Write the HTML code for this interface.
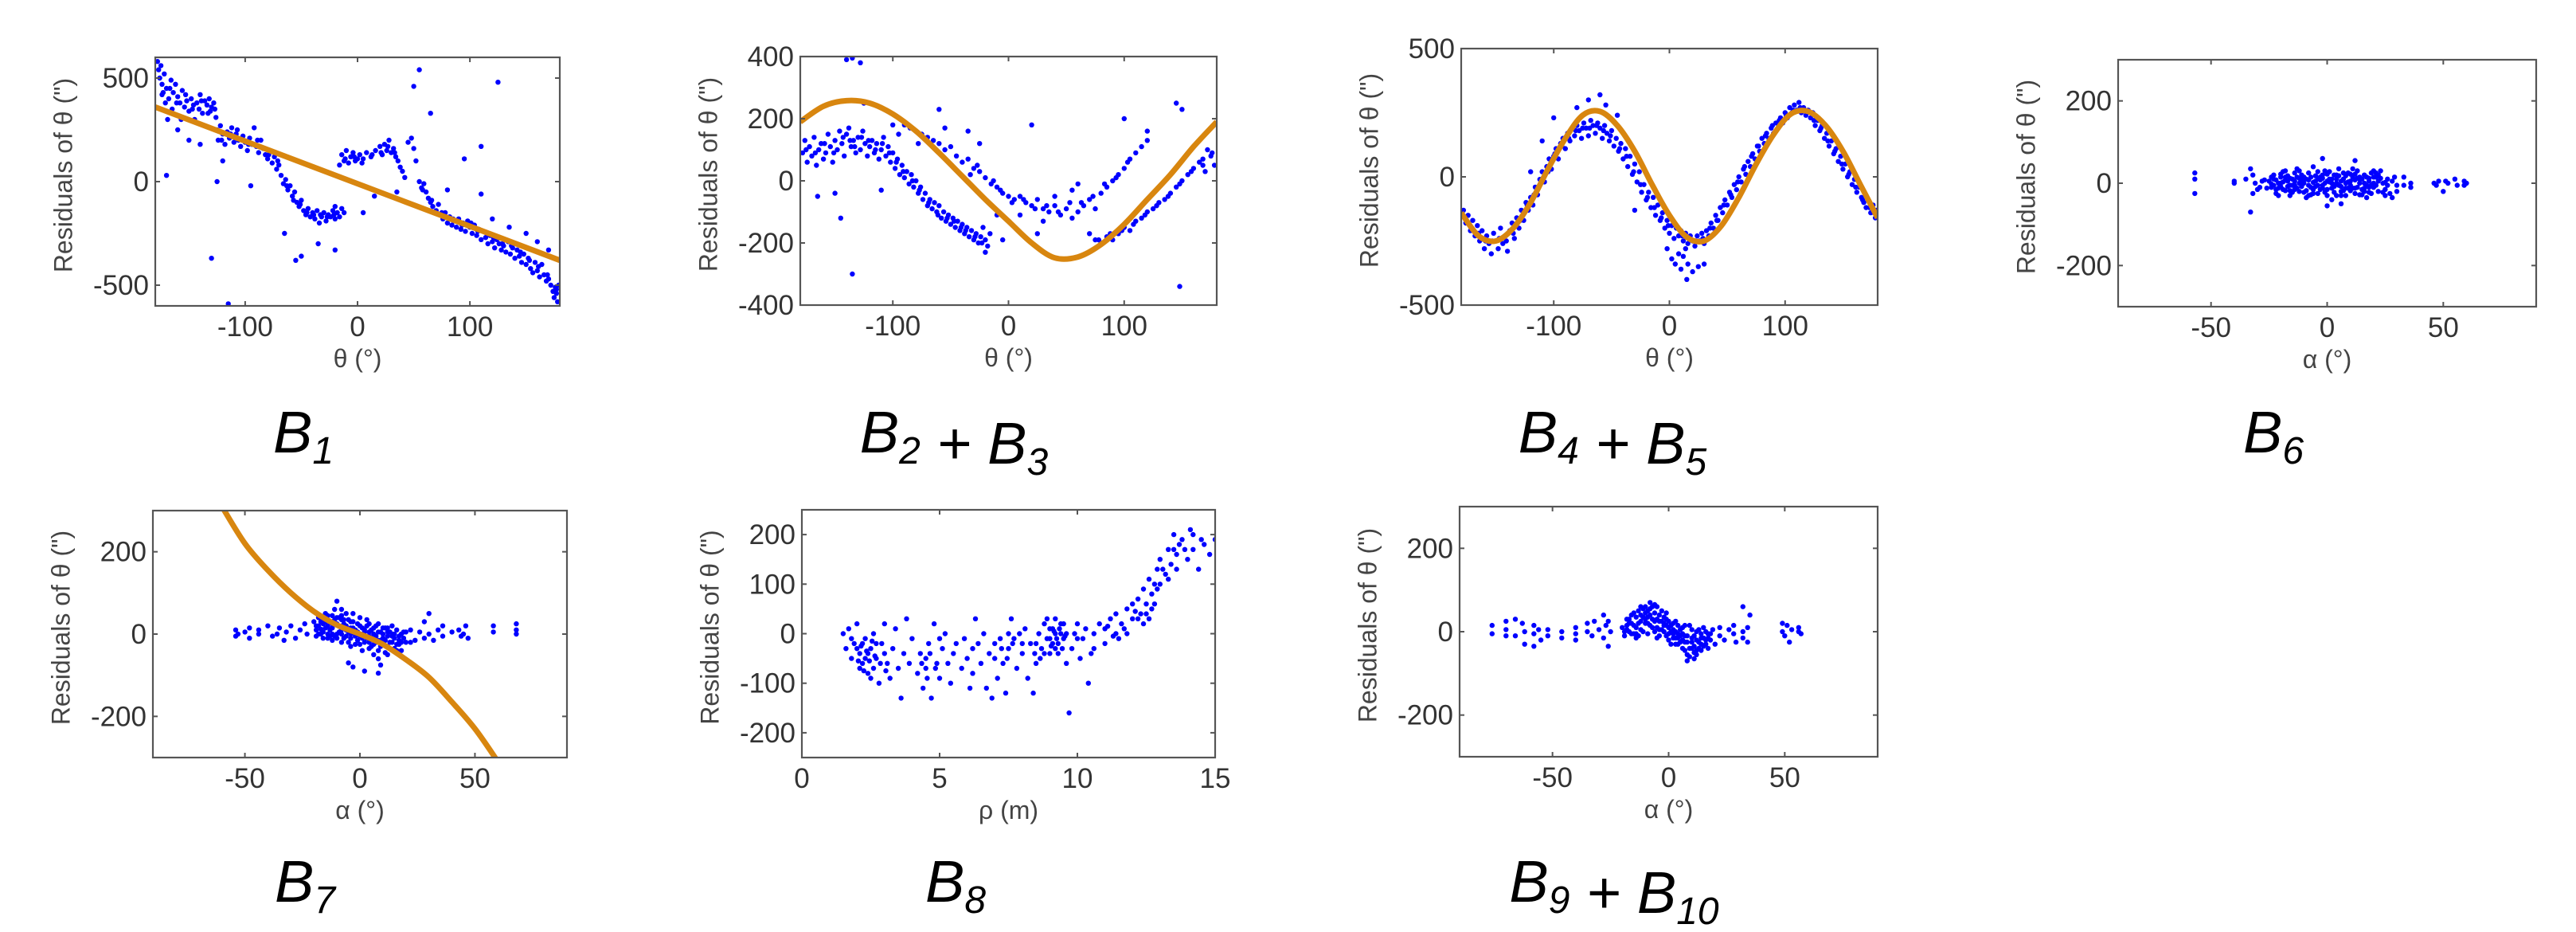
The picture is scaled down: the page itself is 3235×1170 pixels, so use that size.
<!DOCTYPE html>
<html><head><meta charset="utf-8">
<style>
html,body{margin:0;padding:0;background:#fff;}
svg{display:block;}
text{font-family:"Liberation Sans",sans-serif;}
</style></head>
<body>
<svg id="fig" width="3235" height="1170" viewBox="0 0 3235 1170" xmlns="http://www.w3.org/2000/svg">
<rect width="3235" height="1170" fill="#fff"/>
</svg>
<script>
// ---- data ----
const b1Points=[-178,580,-177,540,-176,500,-175,560,-174,470,-173,430,-172,520,-171,380,-170,450,-169,300,-168,400,-166,490,-165,350,-164,430,-162,470,-160,410,-158,380,-157,300,-156,440,-154,360,-152,390,-150,340,-148,400,-146,370,-145,300,-143,380,-141,350,-140,420,-138,330,-136,390,-134,370,-132,400,-131,340,-130,360,-128,380,-126,310,-125,250,-124,200,-122,270,-120,230,-118,180,-116,240,-114,210,-112,260,-110,190,-108,230,-106,200,-104,170,-102,220,-100,190,-98,150,-96,210,-94,180,-92,260,-90,170,-88,140,-86,200,-84,160,-82,130,-80,110,-78,150,-76,90,-74,120,-72,60,-70,80,-68,30,-66,-10,-64,10,-62,-40,-60,-20,-58,-70,-56,-50,-54,-100,-52,-120,-50,-90,-48,-140,-46,-160,-44,-130,-42,-170,-40,-150,-38,-180,-36,-140,-34,-200,-32,-170,-30,-150,-28,-190,-26,-160,-24,-170,-22,-140,-20,-180,-18,-150,-16,-170,-14,-130,-12,-150,-16,80,-14,130,-12,100,-10,150,-8,90,-6,120,-4,140,-2,100,0,110,2,130,4,90,8,140,12,120,16,150,20,170,22,130,24,180,26,150,28,200,30,140,32,160,34,120,36,100,38,70,40,50,42,20,45,190,48,210,50,160,52,100,55,0,57,-30,59,-10,61,-50,63,-80,65,-100,67,-120,70,-140,72,-110,74,-160,76,-180,78,-150,80,-200,82,-170,84,-210,86,-190,88,-220,90,-180,92,-230,94,-200,96,-240,98,-190,100,-220,102,-250,104,-210,106,-260,108,-230,110,-280,112,-240,114,-270,116,-300,118,-260,120,-290,122,-320,124,-280,126,-300,128,-330,130,-310,132,-340,134,-290,136,-350,138,-320,140,-370,142,-330,144,-360,146,-390,148,-350,150,-400,152,-370,154,-420,156,-440,158,-390,160,-430,162,-460,164,-400,166,-450,168,-480,170,-470,172,-500,174,-530,175,-560,176,-510,177,-540,178,-580,179,-500,-170,30,-130,-370,-115,-590,-125,0,-95,-20,55,540,50,460,65,330,125,480,95,110,110,170,110,-60,80,-40,-20,-330,-35,-300,-50,-360,-55,-380,-65,-250,-20,-120,15,-70,5,-150,35,-50,-160,250,-150,200,-140,180,-120,100,120,-180,135,-220,150,-250,160,-290,170,-330,-174,420,-167,450,-161,380,-153,420,-147,350,-139,390,-133,330,-127,350,-121,200,-113,230,-107,250,-97,180,-89,200,-79,130,-71,100,-63,-20,-57,-90,-51,-110,-45,-150,-39,-160,-33,-160,-27,-170,-21,-160,-11,110,-3,120,5,110,13,130,21,140,27,170,33,140,58,-40,66,-90,75,-150,85,-180,93,-210,101,-200,107,-240,115,-250,121,-270,129,-300,137,-310,145,-340,153,-380,161,-410,169,-450,177,-520];
const b1FitX=[-180,180];
const b1FitY=[360,-380];

const b23Points=[-178,90,-176,130,-174,60,-172,110,-170,80,-168,140,-166,50,-164,100,-162,120,-160,70,-158,90,-156,150,-154,110,-152,60,-150,130,-148,100,-146,160,-144,120,-142,80,-140,150,-138,170,-136,110,-134,130,-132,90,-130,140,-128,100,-126,160,-124,120,-122,80,-120,110,-118,130,-116,90,-114,120,-112,70,-110,100,-108,140,-106,80,-104,110,-102,60,-100,90,-98,40,-96,70,-94,20,-92,50,-90,10,-88,30,-86,-10,-84,20,-82,-20,-80,0,-78,-40,-76,-20,-74,-60,-72,-40,-70,-80,-68,-60,-66,-90,-64,-70,-62,-100,-60,-80,-58,-120,-56,-100,-54,-130,-52,-110,-50,-140,-48,-120,-46,-150,-44,-130,-42,-160,-40,-140,-38,-170,-36,-150,-34,-180,-32,-160,-30,-190,-28,-170,-26,-200,-24,-180,-22,-150,-20,-190,-18,-210,-16,-170,-90,180,-85,170,-80,160,-75,150,-70,140,-65,130,-60,120,-55,100,-50,110,-45,80,-40,60,-35,70,-30,40,-25,30,-20,10,-15,-10,-10,-20,-5,-40,0,-50,5,-60,10,-50,15,-70,20,-80,25,-60,30,-90,35,-100,40,-80,45,-110,50,-90,55,-120,60,-100,65,-80,70,-60,75,-90,80,-40,85,-20,90,0,95,20,100,40,105,70,110,90,115,110,120,130,-78,120,70,-170,75,-190,80,-200,85,-180,90,-190,95,-170,100,-150,105,-160,110,-130,115,-120,120,-100,125,-90,130,-70,135,-60,140,-40,145,-20,150,0,155,20,160,40,165,60,170,30,175,80,178,50,172,100,168,70,-140,390,-135,395,-128,380,-125,250,-135,-300,-145,-120,-165,-50,-150,-40,-110,-30,-60,230,-55,170,-35,160,-25,120,20,180,40,-50,55,-30,60,-10,100,200,120,160,145,250,150,230,148,-340,-10,-110,10,-110,30,-130,-100,180,-95,150,25,-170,-20,-230,-5,-190,-175,100,-167,90,-159,120,-151,90,-143,140,-137,130,-133,110,-127,140,-121,130,-115,100,-109,120,-103,90,-97,60,-91,30,-83,0,-77,-30,-69,-70,-61,-110,-53,-120,-47,-130,-41,-150,-37,-160,-29,-180,-23,-200,-33,20,-27,50,-13,0,-7,-30,3,-70,13,-60,23,-90,33,-80,43,-100,53,-70,63,-70,73,-50,83,-10,93,10,103,60,78,-190,88,-170,98,-160,108,-140,118,-110,128,-80,138,-50,148,-10,158,30,168,50,176,90];
const b23FitX=[-180,-160,-140,-120,-100,-80,-60,-40,-20,0,20,40,60,80,100,120,140,160,180];
const b23FitY=[190,240,258,250,215,160,90,15,-60,-130,-200,-248,-245,-205,-140,-60,20,110,190];

const b45Points=[-178,-130,-176,-180,-174,-150,-172,-210,-170,-170,-168,-230,-166,-190,-164,-250,-162,-210,-160,-280,-158,-230,-156,-260,-154,-300,-152,-220,-150,-250,-148,-280,-146,-200,-144,-260,-142,-230,-140,-290,-138,-210,-136,-180,-134,-240,-132,-160,-130,-200,-128,-130,-126,-170,-124,-100,-122,-130,-120,-80,-118,-110,-116,-40,-114,-70,-112,-10,-110,20,-108,-20,-106,40,-104,70,-102,30,-100,80,-98,110,-96,70,-94,130,-92,150,-90,110,-88,170,-86,140,-84,190,-82,160,-80,200,-78,180,-76,150,-74,210,-72,190,-70,160,-68,220,-66,200,-64,170,-62,210,-60,190,-58,150,-56,200,-54,170,-52,140,-50,180,-48,120,-46,150,-44,100,-42,130,-40,70,-38,110,-36,40,-34,80,-32,10,-30,50,-28,-20,-26,20,-24,-60,-22,-30,-20,-90,-18,-60,-16,-120,-14,-80,-12,-150,-10,-110,-8,-170,-6,-140,-4,-200,-2,-170,0,-220,2,-190,4,-240,-2,-280,2,-320,5,-340,8,-300,10,-360,12,-310,14,-280,16,-340,6,-200,8,-230,10,-210,12,-250,14,-220,16,-260,18,-230,20,-250,22,-270,24,-230,26,-250,28,-220,30,-260,32,-210,34,-230,36,-180,38,-200,40,-150,42,-170,44,-120,46,-140,48,-90,50,-110,52,-60,54,-80,56,-30,58,-50,60,0,62,-20,64,30,66,10,68,60,70,40,72,90,74,70,76,120,78,100,80,150,82,130,84,170,86,150,88,190,90,170,92,210,94,190,96,230,98,210,100,250,102,230,104,270,106,250,108,280,110,260,112,290,114,250,116,270,118,240,120,260,122,230,124,250,126,200,128,220,130,180,132,200,134,150,136,170,138,120,140,140,142,90,144,110,146,60,148,80,150,30,152,50,154,0,156,20,158,-30,160,-10,162,-60,164,-40,166,-80,168,-100,170,-120,172,-90,174,-140,176,-110,178,-160,179,-130,-70,300,-60,320,-55,280,-45,240,-80,270,-100,230,-110,140,-120,20,15,-400,20,-370,25,-350,-30,-130,30,-340,-177,-160,-171,-200,-165,-220,-159,-250,-153,-250,-147,-240,-141,-250,-135,-220,-129,-170,-123,-110,-117,-70,-111,-20,-105,20,-99,90,-93,120,-87,150,-81,180,-75,190,-69,190,-63,200,-57,180,-51,160,-43,110,-37,80,-31,20,-25,-30,-19,-80,-13,-120,-7,-160,-1,-190,11,-230,17,-240,23,-250,29,-240,35,-200,41,-170,47,-110,53,-70,59,-20,65,40,71,80,77,120,83,160,89,200,95,220,101,240,107,260,113,270,119,250,125,220,131,190,137,140,143,100,149,50,155,10,161,-40,167,-90,173,-120,177,-140];
const b45FitX=[-180,-165,-150,-135,-120,-105,-90,-75,-60,-45,-30,-15,0,15,30,45,60,75,90,105,120,135,150,165,180];
const b45FitY=[-140,-230,-250,-200,-100,30,150,240,255,200,100,-30,-150,-235,-250,-190,-80,50,165,245,255,200,100,-30,-160];

const b6Points=[-57,25,-57,10,-57,-25,-40,0,-40,5,-33,-70,-33,35,-32,20,-31,0,-30,-15,-32,-25,-35,10,-28,5,-29,-10,33,15,33,-5,36,0,36,-10,46,0,47,-5,48,5,50,-20,51,5,52,0,55,10,56,-5,59,5,59,-5,60,0,30,-20,28,-35,25,-30,12,55,-2,60,6,-50,0,-55,-25,5,-24,-10,-23,20,-22,-25,-21,0,-20,15,-19,-15,-18,30,-17,5,-16,-30,-15,10,-14,-5,-13,35,-12,-20,-11,20,-10,0,-9,-35,-8,25,-7,-10,-6,40,-5,5,-4,-25,-3,15,-2,-5,-1,30,0,-15,1,10,2,-40,3,20,4,0,5,35,6,-20,7,10,8,-30,9,25,10,-5,11,15,12,-25,13,30,14,0,15,-15,16,20,17,-35,18,5,19,25,20,-10,21,15,22,-20,23,30,24,0,25,-15,26,10,27,-25,28,5,29,15,30,-5,-24,15,-22,8,-20,-8,-18,-18,-16,12,-14,25,-12,0,-10,-22,-8,8,-6,-15,-4,28,-2,12,0,22,2,-12,4,-30,6,5,8,18,10,-18,12,8,14,-28,16,0,18,-22,20,30,22,5,-21,-30,-19,28,-17,-8,-15,-22,-13,15,-11,-8,-9,10,-7,-28,-5,18,-3,-15,-1,0,1,28,3,-22,5,-5,7,25,9,-12,11,35,13,-10,15,10,17,-5,19,-25,21,25,-23,-5,-26,-12,-27,8,-20,0,-18,8,-16,-5,-14,5,-12,12,-10,10,-8,-5,-6,2,-4,-5,-2,20,0,5,2,0,4,10,6,-8,8,0,10,5,12,-12,14,15,16,-12,18,12,20,0,-23,10,-21,-12,-19,3,-17,18,-15,-5,-13,-12,-11,5,-9,-18,-7,15,-5,-8,-3,8,-1,-22,1,3,3,-8,5,18,7,-18,9,3,11,-12,13,12,15,-28,17,15,19,-5,21,-5,23,12,25,2,-24,-2,-20,22,-16,-18,-12,30,-8,-30,-4,12,0,-30,4,20,8,-12,12,22,16,-20,20,15,24,-22,-22,-15,-18,15,-14,-15,-10,15,-6,-25,-2,-12,2,10,6,-30,10,22,14,10,18,-10,22,20,26,-5];

const b7Points=[-54,10,-54,-5,-53,0,-50,5,-48,15,-48,-10,-44,0,-44,10,-40,20,-38,-5,-36,0,-35,15,-33,-15,-32,5,-30,20,-28,-10,-26,10,-24,25,-23,0,26,5,28,-10,28,30,30,50,30,0,32,-15,34,10,36,-5,36,20,40,5,43,10,44,-5,45,0,46,20,47,-10,58,5,58,20,68,0,68,10,68,25,-10,80,-8,60,-5,-70,-3,-80,2,-90,8,-95,9,-75,-20,30,-19,10,-18,40,-17,0,-16,25,-15,50,-14,-10,-13,30,-12,15,-11,60,-10,0,-9,40,-8,-20,-7,25,-6,50,-5,5,-4,-30,-3,30,-2,10,-1,-15,0,20,1,-40,2,5,3,35,4,-20,5,10,6,-50,7,-5,8,25,9,-30,10,0,11,-45,12,15,13,-20,14,-5,15,-35,16,10,17,-15,18,-40,19,5,20,-20,-19,-5,-17,30,-15,15,-13,-5,-11,35,-9,20,-7,-10,-5,35,-3,50,-1,25,1,15,3,-10,5,-30,7,20,9,-15,11,15,13,-35,15,-10,17,-5,-14,45,-12,-15,-10,25,-8,10,-6,-5,-4,15,-2,-25,0,-5,2,-20,4,25,6,0,8,-60,10,-25,12,-5,14,20,16,-25,18,0,-16,5,-12,45,-8,35,-4,-10,0,40,4,-35,8,5,12,-50,22,10,24,-15,22,-20,-18,20,-14,20,-10,40,-6,20,-2,-5,2,-5,6,-25,10,-10,14,0,-16,-10,-12,0,-8,0,-4,0,0,0,4,5,8,-15,12,-30,-19,20,-17,12,-15,30,-13,10,-11,-5,-9,5,-7,35,-5,-20,-3,15,-1,5,1,-10,3,20,5,-10,7,-20,9,5,11,-15,13,5,15,0,17,-25,19,-10,-18,0,-16,35,-14,0,-12,25,-10,-10,-8,45,-6,10,-4,30,-2,0,0,-25,2,10,4,-5,6,15,8,-40,10,15,12,5,14,-20,16,-40,18,-20,20,5];
const b7FitX=[-60,-50,-40,-30,-20,-10,0,10,20,30,40,50,60];
const b7FitY=[310,220,155,100,55,22,0,-25,-62,-105,-165,-230,-310];

const b8Points=[1.5,0,1.6,-30,1.7,10,1.8,-50,1.9,-20,2.0,20,2.1,-40,2.2,-60,2.3,-10,2.4,-80,2.5,-30,2.6,-70,2.7,-50,2.8,-100,2.9,-20,3.0,20,3.1,-60,3.2,-90,3.3,-30,3.4,10,3.5,-70,3.6,-130,3.7,-40,3.8,30,3.9,-60,4.0,-10,4.2,-80,4.3,-40,4.4,-110,4.5,-70,4.6,-20,4.7,-130,4.8,20,4.9,-60,5.0,-90,5.1,-30,5.2,0,5.3,-60,5.4,-100,5.5,-40,5.6,-20,5.8,-70,5.9,-10,6.0,-50,6.1,-110,6.2,-80,6.3,30,6.4,-20,6.5,-60,6.6,0,6.7,-110,6.8,-40,6.9,-130,7.0,-20,7.1,-90,7.2,-10,7.3,-60,7.4,-120,7.5,-30,7.6,30,7.7,-10,7.8,-70,7.9,0,8.0,-40,8.1,10,8.2,-90,8.3,-20,8.4,-120,8.5,-60,8.6,0,8.7,-30,8.8,20,8.9,-10,9.0,-40,9.1,10,9.2,0,9.3,-20,9.4,20,9.5,-10,9.6,-60,9.7,-160,9.8,-30,9.9,0,10.0,20,10.1,-50,10.2,-10,10.3,10,10.4,-100,10.5,-40,10.6,0,10.8,20,11.0,10,11.2,30,11.4,0,11.6,20,11.8,50,12.0,30,12.2,70,12.3,40,12.4,90,12.5,60,12.6,110,12.7,80,12.8,60,12.9,130,13.0,150,13.2,120,13.3,170,13.4,140,13.5,200,13.6,160,13.8,190,14.0,150,14.1,210,14.2,170,14.4,130,14.6,180,14.8,160,15.0,190,2.0,-30,2.2,-20,2.4,-40,2.6,0,9.0,10,9.1,-20,9.2,30,9.3,-40,9.4,0,9.5,20,8.8,-40,8.9,30,11.8,0,12.0,60,12.4,20,13.0,100,14.5,190,11.5,-10,12.6,30,1.8,-10,2.1,-70,2.3,-50,2.5,-90,2.7,-20,3.0,-40,4.5,-50,5.0,-10,6.2,-30,7.0,-50,7.5,0,8.0,-20,8.5,-20,9.0,-10,9.2,-30,9.6,0,10.0,-10,10.6,-30,11.0,-20,11.4,40,12.2,30,12.8,100,13.6,130,14.2,200,2.05,-55,2.15,-25,2.25,-75,2.35,-35,2.45,-55,2.55,-15,2.65,-45,2.85,-60,3.05,-75,4.35,-60,4.55,-90,4.65,-40,4.85,-70,7.25,-30,7.45,-50,7.65,-20,8.45,-40,8.65,-50,9.05,-25,9.15,5,9.25,-10,9.35,10,9.45,-30,9.55,-5,11.1,15,11.3,-5,11.7,10,12.1,45,12.5,40,12.7,50,12.9,90,13.1,130,13.3,110,13.5,170,13.7,180,13.9,170];

const b910Points=[-76,15,-76,-5,-70,25,-70,5,-70,-10,-66,30,-66,-10,-63,20,-62,0,-62,-30,-58,15,-58,-5,-58,-35,-56,5,-55,-20,-52,5,-52,-10,-46,0,-46,-15,-40,10,-40,-5,-40,-20,-35,20,-35,0,-33,-10,-32,25,-30,5,-28,40,-28,-15,-27,15,-26,-35,-26,25,-25,0,20,-30,22,10,22,-10,24,-20,26,5,28,-5,28,15,29,-25,32,0,32,-15,32,60,34,10,35,40,34,-25,49,0,49,20,50,-10,51,15,52,-25,53,5,56,10,57,-5,56,0,-20,10,-19,-10,-18,30,-17,0,-16,40,-15,15,-14,-15,-13,50,-12,25,-11,0,-10,60,-9,35,-8,70,-7,10,-6,45,-5,-15,-4,25,-3,50,-2,0,-1,30,0,-20,1,15,2,-5,3,25,4,-30,5,5,6,-40,7,-10,8,-55,9,15,10,-25,11,-65,12,0,13,-40,14,-15,15,10,16,-30,17,-5,18,-20,19,5,-18,5,-16,-5,-14,35,-12,5,-10,20,-8,40,-6,0,-4,-10,-2,35,0,10,2,20,4,-5,6,10,8,-25,10,5,12,-20,14,-45,16,0,-15,45,-11,55,-9,-5,-7,60,-5,30,-3,5,-1,-10,1,-30,3,-15,5,-25,7,-45,9,-60,11,-35,13,5,15,-15,17,-40,-17,20,-13,-10,-9,20,-5,60,-1,45,3,0,7,15,11,-10,-16,20,-12,40,-8,15,-4,5,0,-5,4,15,8,-10,12,-45,-14,10,-10,30,-6,25,-2,15,2,-15,6,-20,10,-40,14,-5,-19,0,-17,30,-15,-5,-13,20,-11,35,-9,50,-7,30,-5,10,-3,25,-1,15,1,0,3,-30,5,-10,7,-25,9,-40,11,-50,13,-25,15,-35,17,-15,-18,15,-14,-5,-10,45,-6,65,-2,20,2,5,6,-5,10,-15,14,-30,18,-5,-12,60,-8,55,-4,40,0,25,4,-15,8,-70,12,-55,16,-20];

// ---- axis / panel configuration ----
const panels=[
 {id:'b1',pts:b1Points,fx:b1FitX,fy:b1FitY,L:195,R:703,T:72,B:384,x0:-180,x1:180,y0:-600,y1:600,xt:[-100,0,100],yt:[-500,0,500],xl:'θ (°)',lab:['1'],cx:381,by:568},
 {id:'b2-b3',pts:b23Points,fx:b23FitX,fy:b23FitY,L:1005,R:1528,T:71,B:383,x0:-180,x1:180,y0:-400,y1:400,xt:[-100,0,100],yt:[-400,-200,0,200,400],xl:'θ (°)',lab:['2','3'],cx:1198,by:568},
 {id:'b4-b5',pts:b45Points,fx:b45FitX,fy:b45FitY,L:1835,R:2358,T:61,B:383,x0:-180,x1:180,y0:-500,y1:500,xt:[-100,0,100],yt:[-500,0,500],xl:'θ (°)',lab:['4','5'],cx:2025,by:568},
 {id:'b6',pts:b6Points,L:2660,R:3185,T:75,B:385,x0:-90,x1:90,y0:-300,y1:300,xt:[-50,0,50],yt:[-200,0,200],xl:'α (°)',lab:['6'],cx:2855,by:568},
 {id:'b7',pts:b7Points,fx:b7FitX,fy:b7FitY,L:192,R:712,T:641,B:951,x0:-90,x1:90,y0:-300,y1:300,xt:[-50,0,50],yt:[-200,0,200],xl:'α (°)',lab:['7'],cx:383,by:1132},
 {id:'b8',pts:b8Points,L:1007,R:1526,T:640,B:951,x0:0,x1:15,y0:-250,y1:250,xt:[0,5,10,15],yt:[-200,-100,0,100,200],xl:'ρ (m)',lab:['8'],cx:1200,by:1132},
 {id:'b9-b10',pts:b910Points,L:1833,R:2358,T:636,B:950,x0:-90,x1:90,y0:-300,y1:300,xt:[-50,0,50],yt:[-200,0,200],xl:'α (°)',lab:['9','10'],cx:2027,by:1132}
];

const NS='http://www.w3.org/2000/svg';
const svg=document.getElementById('fig');
function mk(tag,attrs,parent){const e=document.createElementNS(NS,tag);for(const k in attrs)e.setAttribute(k,attrs[k]);(parent||svg).appendChild(e);return e;}

function smoothPath(P){
  if(P.length<3){return 'M'+P.map(p=>p[0].toFixed(1)+','+p[1].toFixed(1)).join('L');}
  let d='M'+P[0][0].toFixed(1)+','+P[0][1].toFixed(1);
  for(let i=0;i<P.length-1;i++){
    const p0=P[Math.max(0,i-1)],p1=P[i],p2=P[i+1],p3=P[Math.min(P.length-1,i+2)];
    const c1x=p1[0]+(p2[0]-p0[0])/6,c1y=p1[1]+(p2[1]-p0[1])/6;
    const c2x=p2[0]-(p3[0]-p1[0])/6,c2y=p2[1]-(p3[1]-p1[1])/6;
    d+='C'+c1x.toFixed(1)+','+c1y.toFixed(1)+' '+c2x.toFixed(1)+','+c2y.toFixed(1)+' '+p2[0].toFixed(1)+','+p2[1].toFixed(1);
  }
  return d;
}

panels.forEach(p=>{
  const g=mk('g',{});
  
  
  const sx=v=>p.L+(v-p.x0)/(p.x1-p.x0)*(p.R-p.L);
  const sy=v=>p.B-(v-p.y0)/(p.y1-p.y0)*(p.B-p.T);
  const clip=mk('clipPath',{id:'clip-'+p.id},g);
  mk('rect',{x:p.L,y:p.T,width:p.R-p.L,height:p.B-p.T},clip);
  const pg=mk('g',{'clip-path':'url(#clip-'+p.id+')'},g);
  
  
  for(let i=0;i<p.pts.length;i+=2){
    const c=mk('circle',{cx:sx(p.pts[i]).toFixed(1),cy:sy(p.pts[i+1]).toFixed(1),r:3.2,fill:'#0000ff'},pg);
    
    
  }
  if(p.fx){
    const P=p.fx.map((x,i)=>[sx(x),sy(p.fy[i])]);
    const fl=mk('path',{d:smoothPath(P),fill:'none',stroke:'#d8860f',"stroke-width":7,"stroke-linejoin":'round','clip-path':'url(#clip-'+p.id+')'},g);
    
    
  }
  const fr=mk('rect',{x:p.L,y:p.T,width:p.R-p.L,height:p.B-p.T,fill:'none',stroke:'#555',"stroke-width":2.2},g);
  
  
  p.xt.forEach(v=>{
    const x=sx(v);
    mk('line',{x1:x,y1:p.B,x2:x,y2:p.B-6,stroke:'#555',"stroke-width":2},g);
    mk('line',{x1:x,y1:p.T,x2:x,y2:p.T+6,stroke:'#555',"stroke-width":2},g);
    const t=mk('text',{x:x,y:p.B+38,'text-anchor':'middle','font-size':35,fill:'#333'},g);
    t.textContent=String(v);
    
    
  });
  p.yt.forEach(v=>{
    const y=sy(v);
    mk('line',{x1:p.L,y1:y,x2:p.L+6,y2:y,stroke:'#555',"stroke-width":2},g);
    mk('line',{x1:p.R,y1:y,x2:p.R-6,y2:y,stroke:'#555',"stroke-width":2},g);
    const t=mk('text',{x:p.L-8,y:y+12,'text-anchor':'end','font-size':35,fill:'#333'},g);
    t.textContent=String(v);
    
    
  });
  const xt=mk('text',{x:(p.L+p.R)/2,y:p.B+77,'text-anchor':'middle','font-size':32,fill:'#444'},g);
  xt.textContent=p.xl;
  
  
  const ycx=p.L-113, ycy=(p.T+p.B)/2-8;
  const yt=mk('text',{x:ycx,y:ycy,'text-anchor':'middle','font-size':32,fill:'#444',transform:'rotate(-90 '+ycx+' '+ycy+')','dominant-baseline':'middle'},g);
  yt.textContent='Residuals of θ (")';
  
  
  const cap=mk('text',{x:p.cx,y:p.by,'text-anchor':'middle','font-size':74,'font-style':'italic',fill:'#000'},g);
  
  
  p.lab.forEach((s,i)=>{
    if(i>0){const pl=mk('tspan',{},cap);pl.textContent=' + ';}
    const b=mk('tspan',{},cap);b.textContent='B';
    const sub=mk('tspan',{'font-size':48,dy:14},cap);sub.textContent=s;
    const back=mk('tspan',{dy:-14},cap);back.textContent='';
  });
});
</script>
</body></html>
